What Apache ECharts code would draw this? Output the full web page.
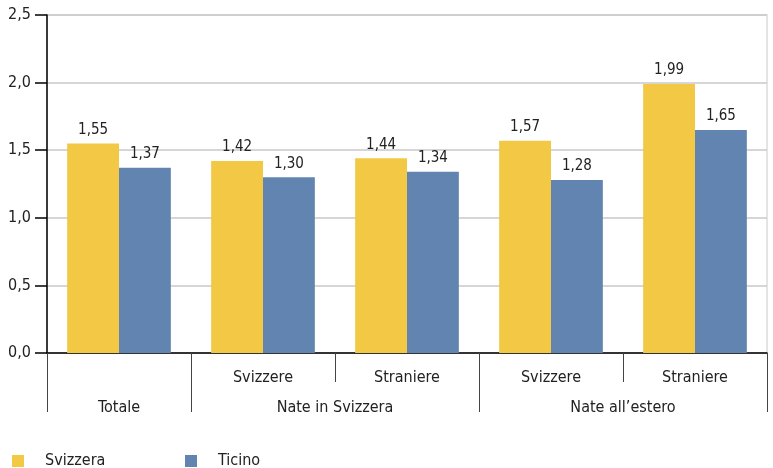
<!DOCTYPE html>
<html>
<head>
<meta charset="utf-8">
<script src="https://cdn.jsdelivr.net/npm/echarts@6/dist/echarts.min.js"></script>
<style>
  html, body { margin: 0; padding: 0; background: #fff; }
  #chart { width: 773px; height: 468px; }
</style>
</head>
<body>
<div id="chart"></div>
<script>
// data
const subLabels = ['', 'Svizzere', 'Straniere', 'Svizzere', 'Straniere'];
// group axis: 11 points on half-category steps, labels at group centres
const groupLabels = ['', 'Totale', '', '', 'Nate in Svizzera', '', '', '', "Nate all\u2019estero", '', ''];
const groupBounds = [0, 2, 6, 10];
const svizzera = [1.55, 1.42, 1.44, 1.57, 1.99];
const ticino = [1.37, 1.30, 1.34, 1.28, 1.65];

const FONT = '"DejaVu Sans Condensed", sans-serif';
const fmt = (v, d) => v.toFixed(d).replace('.', ',');

const chart = echarts.init(document.getElementById('chart'));

const legendText = {fontFamily: FONT, fontSize: 16, color: '#222', padding: [0, 0, 0, 16]};

const option = {
    backgroundColor: '#fff',
    textStyle: {fontFamily: FONT},
    color: ['#F2C844', '#6284B0'],
    animation: false,
    grid: {left: 47, right: 6, top: 15, bottom: 115, containLabel: false,
        show: true, borderColor: '#dcdcdc', borderWidth: 1.5},
    legend: [{
        data: ['Svizzera'],
        left: 12, top: 453, padding: 0,
        itemWidth: 12, itemHeight: 12,
        icon: 'rect',
        textStyle: legendText
    }, {
        data: ['Ticino'],
        left: 185, top: 453, padding: 0,
        itemWidth: 12, itemHeight: 12,
        icon: 'rect',
        textStyle: legendText
    }],
    xAxis: [{
        type: 'category',
        data: subLabels,
        axisLine: {lineStyle: {color: '#000', width: 1.5}},
        axisTick: {show: true, interval: 0, length: 29, lineStyle: {color: '#444'}},
        axisLabel: {interval: 0, margin: 17, fontSize: 16, color: '#222', fontFamily: FONT},
        splitLine: {show: false}
    }, {
        type: 'category',
        data: groupLabels,
        boundaryGap: false,
        position: 'bottom',
        axisLine: {show: false},
        axisTick: {
            show: true, length: 59, lineStyle: {color: '#444'},
            interval: (i) => groupBounds.indexOf(i) >= 0
        },
        axisLabel: {interval: 0, margin: 47, fontSize: 16, color: '#222', fontFamily: FONT},
        splitLine: {show: false}
    }],
    yAxis: {
        type: 'value',
        min: 0, max: 2.5, interval: 0.5,
        axisLine: {show: true, lineStyle: {color: '#000', width: 1.5}},
        axisTick: {show: true, length: 12, lineStyle: {color: '#000', width: 1.5}},
        axisLabel: {margin: 16, fontSize: 16, color: '#222', fontFamily: FONT, formatter: (v) => fmt(v, 1)},
        splitLine: {show: true, lineStyle: {color: '#c8c8c8', width: 1.5}}
    },
    series: [{
        name: 'Svizzera',
        type: 'bar',
        data: svizzera,
        barGap: '0%',
        barCategoryGap: '28%',
        label: {show: true, position: 'top', distance: 6, fontSize: 15, color: '#222', fontFamily: FONT, formatter: (p) => fmt(p.value, 2)}
    }, {
        name: 'Ticino',
        type: 'bar',
        data: ticino,
        barGap: '0%',
        barCategoryGap: '28%',
        label: {show: true, position: 'top', distance: 6, fontSize: 15, color: '#222', fontFamily: FONT, formatter: (p) => fmt(p.value, 2)}
    }]
};

chart.setOption(option);
</script>
</body>
</html>
